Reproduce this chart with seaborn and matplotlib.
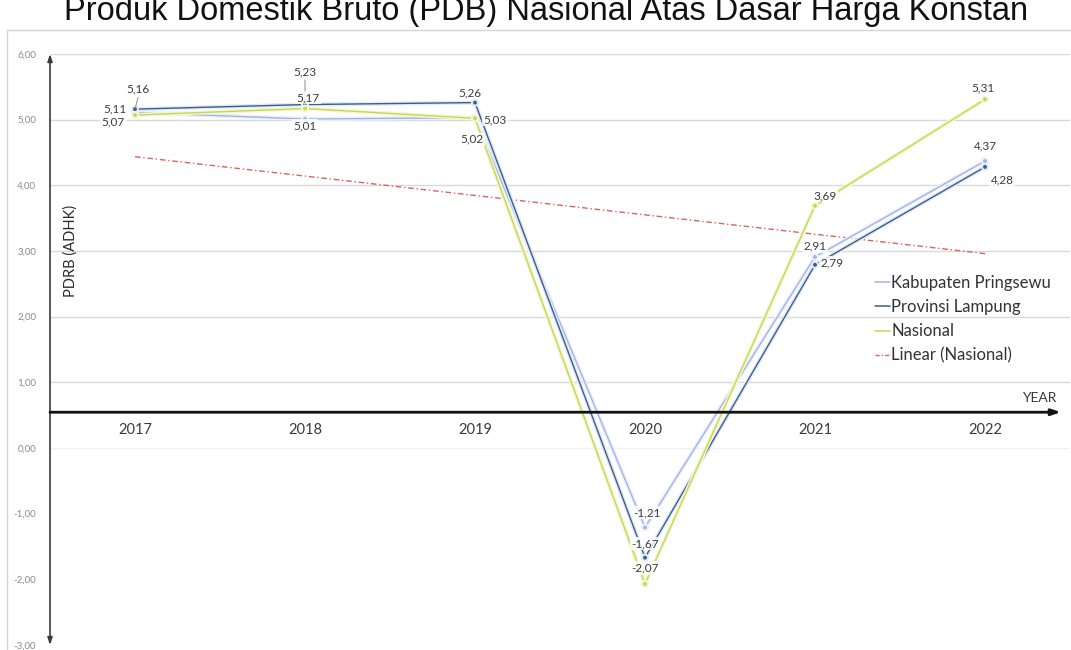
import numpy as np
import pandas as pd
import matplotlib
matplotlib.use("Agg")
import matplotlib.pyplot as plt
import matplotlib.patheffects as pe
from matplotlib.lines import Line2D
from matplotlib.patches import Rectangle
import seaborn as sns

# ---- data -------------------------------------------------------------
years = ["2017", "2018", "2019", "2020", "2021", "2022"]
kab_pringsewu = [5.11, 5.01, 5.03, -1.21, 2.91, 4.37]
prov_lampung = [5.16, 5.23, 5.26, -1.67, 2.79, 4.28]
nasional = [5.07, 5.17, 5.02, -2.07, 3.69, 5.31]
series_names = ["Kabupaten Pringsewu", "Provinsi Lampung", "Nasional"]
y_ticks = [6, 5, 4, 3, 2, 1, 0, -1, -2, -3]

title = "Produk Domestik Bruto (PDB) Nasional Atas Dasar Harga Konstan"

# ---- styling ----------------------------------------------------------
sns.set_theme(style="white")
plt.rcParams["font.family"] = ["Lato", "DejaVu Sans"]

colors = {
    "Kabupaten Pringsewu": "#a3b4e4",
    "Provinsi Lampung": "#3a5f8f",
    "Nasional": "#c6d84e",
}
glow = {
    "Kabupaten Pringsewu": "#edf1fb",
    "Provinsi Lampung": "#e3eaf3",
    "Nasional": "#f3f7da",
}
trend_color = "#e0605a"
label_color = "#3c3c3c"

W, H = 1071, 650
fig = plt.figure(figsize=(W / 100, H / 100), dpi=100)
fig.patch.set_facecolor("white")

# outer chart frame
fig.add_artist(Rectangle((7 / W, -0.02), 1.1, 1 - 30 / H + 0.02,
                         transform=fig.transFigure, fill=False,
                         edgecolor="#d4d4d4", linewidth=1.0))

ax_left, ax_right = 50, 1070
ax_top, ax_bottom = 54, 645
ax = fig.add_axes([ax_left / W, (H - ax_bottom) / H,
                   (ax_right - ax_left) / W, (ax_bottom - ax_top) / H])
ax.set_facecolor("none")

# ---- long-form table for seaborn --------------------------------------
x_idx = np.arange(len(years))
df = pd.DataFrame({
    "x": np.tile(x_idx, 3),
    "value": kab_pringsewu + prov_lampung + nasional,
    "series": np.repeat(series_names, len(years)),
})

for name in series_names:
    sub = df[df["series"] == name]
    sns.lineplot(data=sub, x="x", y="value", ax=ax, color=colors[name],
                 linewidth=1.0, marker="o", markersize=2.8,
                 markeredgewidth=0, legend=False, zorder=3,
                 path_effects=[pe.Stroke(linewidth=3, foreground=glow[name]),
                               pe.Normal()])

# linear trend of the national series
coef = np.polyfit(x_idx, nasional, 1)
trend = np.polyval(coef, x_idx)
sns.lineplot(x=x_idx, y=trend, ax=ax, color=trend_color, linewidth=1.0,
             linestyle=(0, (4, 2, 1, 2)), legend=False, zorder=2)

# ---- axes -------------------------------------------------------------
ax.set_xlim(-0.5, 5.5)
ax.set_ylim(-3, 6)
for s in ax.spines.values():
    s.set_visible(False)
ax.set_xticks([])
ax.set_yticks(y_ticks)
ax.set_yticklabels([f"{v:.2f}".replace(".", ",") for v in y_ticks],
                   fontsize=7, color="#8a8a8a")
ax.tick_params(axis="y", length=0, pad=10)
ax.set_xlabel("")
ax.set_ylabel("")

# horizontal gridlines (upper part of the chart)
for g in [1, 2, 3, 4, 5, 6]:
    ax.axhline(g, color="#d9d9d9", linewidth=1.0, zorder=0)
ax.axhline(0, color="#f0f0f0", linewidth=1.0, zorder=0)

# vertical axis arrow
ax.annotate("", xy=(0, 1.0), xytext=(0, 0.0), xycoords="axes fraction",
            arrowprops=dict(arrowstyle="<|-|>,head_length=0.35,head_width=0.12",
                            color="#3a3a3a", lw=1.2, shrinkA=0, shrinkB=0))

# horizontal baseline arrow with YEAR caption
base_y = 0.545
ax.annotate("", xy=(1011 / (ax_right - ax_left), base_y),
            xytext=(0, base_y), xycoords=("axes fraction", "data"),
            arrowprops=dict(arrowstyle="-|>,head_length=0.45,head_width=0.15",
                            color="#111111", lw=2.0, shrinkA=0, shrinkB=0))
ax.text(0.97, base_y + 0.12, "YEAR", transform=ax.get_yaxis_transform(),
        ha="center", va="bottom", fontsize=10, color="#3a3a3a")

# category labels under the baseline
for i, yr in enumerate(years):
    ax.text(i, base_y - 0.16, yr, ha="center", va="top",
            fontsize=10.5, color="#3a3a3a")

# y-axis title
ax.text(21 / (ax_right - ax_left), 3.0, "PDRB (ADHK)", rotation=90,
        transform=ax.get_yaxis_transform(), ha="center", va="center",
        fontsize=10.5, color="#2a2a2a")

# ---- data labels ------------------------------------------------------
def fmt(v):
    return f"{v:.2f}".replace(".", ",")

# pixel offsets of each label from its point (dx, dy; dy positive = down)
offsets = {
    "Kabupaten Pringsewu": [(-20, -4), (0, 7), (20, 2), (2, -15), (0, -11), (0, -15)],
    "Provinsi Lampung": [(3, -20), (0, -33), (-5, -10), (0, -14), (17, -2), (17, 13)],
    "Nasional": [(-22, 7), (3, -11), (-3, 21), (0, -16), (10, -10), (-2, -11)],
}
values = {
    "Kabupaten Pringsewu": kab_pringsewu,
    "Provinsi Lampung": prov_lampung,
    "Nasional": nasional,
}
leaders = {("Provinsi Lampung", 0), ("Provinsi Lampung", 1)}

for name in series_names:
    for i, v in enumerate(values[name]):
        dx, dy = offsets[name][i]
        ax.annotate(fmt(v), xy=(i, v), xytext=(dx * 0.72, -dy * 0.72),
                    textcoords="offset points", ha="center", va="center",
                    fontsize=8.5, color=label_color, zorder=5,
                    bbox=dict(boxstyle="square,pad=0.1", fc="white",
                              ec="none", alpha=0.8))
        if (name, i) in leaders:
            ax.annotate("", xy=(i, v), xytext=(dx * 0.72, -dy * 0.72 - 6),
                        textcoords="offset points",
                        arrowprops=dict(arrowstyle="-", color="#9a9a9a",
                                        lw=0.8, shrinkA=0, shrinkB=2))

# ---- legend -----------------------------------------------------------
handles = [Line2D([0], [0], color=colors[n], lw=1.1) for n in series_names]
handles.append(Line2D([0], [0], color=trend_color, lw=1.0,
                      linestyle=(0, (3, 1.5, 1, 1.5))))
labels = series_names + ["Linear (Nasional)"]
leg = ax.legend(handles, labels, loc="upper left",
                bbox_to_anchor=(868 / W, 1 - 268 / H),
                bbox_transform=fig.transFigure, frameon=False,
                fontsize=12, handlelength=0.9, handletextpad=0.1,
                labelspacing=0.5, borderaxespad=0)
for t in leg.get_texts():
    t.set_color("#333333")

# ---- title (partly above the canvas) ----------------------------------
fig.text(0.51, 1 - 20 / H, title, ha="center", va="baseline",
         fontsize=23.5, family=["Liberation Sans", "DejaVu Sans"],
         color="#111111")

fig.savefig("out.png", dpi=100)
